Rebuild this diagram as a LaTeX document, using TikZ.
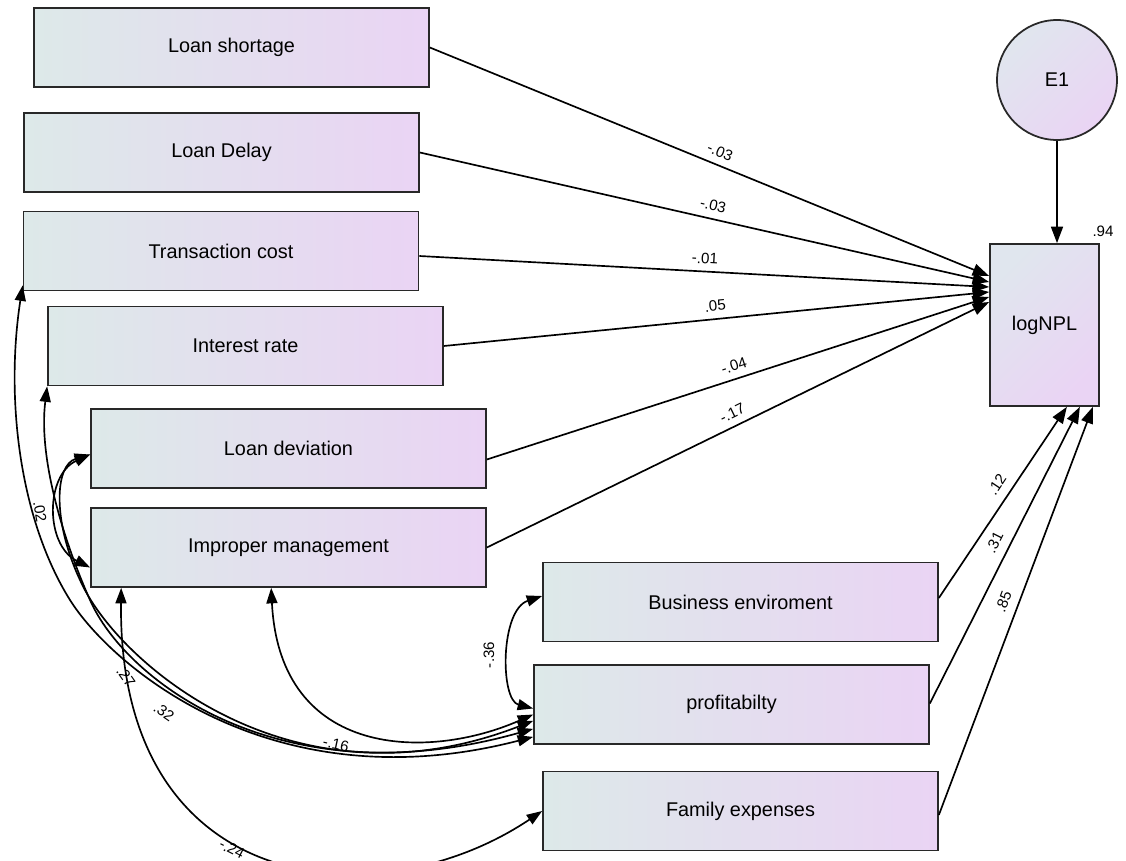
\documentclass[tikz,border=0pt]{standalone}
\usepackage{fontspec}
\setmainfont{Liberation Sans}
\usetikzlibrary{arrows.meta,calc}
\definecolor{boxleft}{RGB}{221,233,233}
\definecolor{boxright}{RGB}{234,212,244}
\definecolor{diagtop}{RGB}{224,230,238}
\definecolor{edgegray}{RGB}{40,40,40}
\tikzset{
  varbox/.style={draw=edgegray, line width=1pt, left color=boxleft, right color=boxright,
    minimum width=7.9cm, minimum height=1.58cm, inner sep=0pt,
    font=\fontsize{11.3pt}{13pt}\selectfont},
  regarrow/.style={line width=0.95pt, -{Triangle[length=0.33cm,width=0.24cm]}},
  covarrow/.style={line width=0.95pt, {Triangle[length=0.31cm,width=0.22cm]}-{Triangle[length=0.31cm,width=0.22cm]}},
  coef/.style={font=\fontsize{8.6pt}{10pt}\selectfont, inner sep=1pt},
}
\begin{document}
\begin{tikzpicture}[x=0.02cm,y=-0.02cm]
\useasboundingbox (0,0) rectangle (1126,861);
% observed variables
\node[varbox] (ls)  at (231.5,47.5)  {Loan shortage};
\node[varbox] (ldl) at (221.5,152.5) {Loan Delay};
\node[varbox] (tc)  at (221,251)     {Transaction cost};
\node[varbox] (ir)  at (245.5,346)   {Interest rate};
\node[varbox] (ldv) at (288.5,448.5) {Loan deviation};
\node[varbox] (im)  at (288.5,547.5) {Improper management};
\node[varbox] (be)  at (740.5,602)   {Business enviroment};
\node[varbox] (pr)  at (731.5,704.5) {profitabilty};
\node[varbox] (fe)  at (740.5,811)   {Family expenses};
\node[varbox, minimum width=2.18cm, minimum height=3.24cm,
      top color=diagtop, bottom color=boxright, shading angle=45] (npl) at (1044.5,325) {logNPL};
\node[circle, draw=edgegray, line width=1pt, minimum size=2.4cm, inner sep=0pt,
      top color=diagtop, bottom color=boxright, shading angle=45,
      font=\fontsize{11.3pt}{13pt}\selectfont] (e1) at (1057,80) {E1};

% error
\draw[regarrow] (e1.south) -- (e1.south |- npl.north);
\node[coef] (r2) at (1103,231) {.94};

% regressions
\draw[regarrow] (ls.east) -- node[coef,sloped,above=3pt,pos=0.51]{-.03} ($(npl.west)+(0,-49)$);
\draw[regarrow] (ldl.east) -- node[coef,sloped,above=3pt,pos=0.51]{-.03} ($(npl.west)+(0,-43)$);
\draw[regarrow] ($(tc.east)+(0,5)$) -- node[coef,sloped,above=3pt,pos=0.5]{-.01} ($(npl.west)+(0,-38)$);
\draw[regarrow] (ir.east) -- node[coef,sloped,above=3pt,pos=0.5]{.05} ($(npl.west)+(0,-33)$);
\draw[regarrow] ($(ldv.east)+(0,11)$) -- node[coef,sloped,above=3pt,pos=0.5]{-.04} ($(npl.west)+(0,-28)$);
\draw[regarrow] (im.east) -- node[coef,sloped,above=3pt,pos=0.5]{-.17} ($(npl.west)+(0,-23)$);
\draw[regarrow] ($(be.east)+(0,-4)$) -- node[coef,sloped,above=4pt,pos=0.55]{.12} ($(npl.south east)+(-33,0)$);
\draw[regarrow] ($(pr.east)+(0,-1)$) -- node[coef,sloped,above=4pt,pos=0.52]{.31} ($(npl.south east)+(-20,0)$);
\draw[regarrow] ($(fe.east)+(0,4)$) -- node[coef,sloped,above=4pt,pos=0.51]{.85} ($(npl.south east)+(-7,0)$);

% covariances
\draw[covarrow] ($(tc.south west)+(0,-6)$) .. controls (5,400) and (20,520) .. (70,600)
   .. controls (110,664) and (270,805) .. ($(pr.south west)+(0,-8)$);
\draw[covarrow] (ir.south west) .. controls (38,460) and (65,544) .. (90,600)
   .. controls (125,680) and (280,800) .. ($(pr.south west)+(0,-16)$);
\draw[covarrow] ($(ldv.west)+(0,6)$) .. controls (55,465) and (52,520) .. (80,580)
   .. controls (115,660) and (290,815) .. ($(pr.south west)+(0,-24)$);
\draw[covarrow] ($(ldv.west)+(0,6)$) .. controls (45,475) and (45,545) .. ($(im.west)+(0,20)$);
\draw[covarrow] ($(im.south west)+(181,0)$) .. controls (280,760) and (430,760) .. ($(pr.west)+(0,10)$);
\draw[covarrow] ($(im.south west)+(31,0)$) .. controls (118,900) and (380,920) .. (fe.west);
\draw[covarrow] ($(be.west)+(0,-6)$) .. controls (500,610) and (500,700) .. ($(pr.west)+(0,4)$);

% covariance labels
\node[coef, rotate=-80] (c1) at (40,512)  {.02};
\node[coef, rotate=-55] (c2) at (126,677) {.27};
\node[coef, rotate=-35] (c3) at (164,712) {.32};
\node[coef, rotate=-12] (c4) at (336,744) {-.16};
\node[coef, rotate=-27] (c5) at (232,849) {-.24};
\node[coef, rotate=90]  (c6) at (489,655) {-.36};
\end{tikzpicture}
\end{document}
